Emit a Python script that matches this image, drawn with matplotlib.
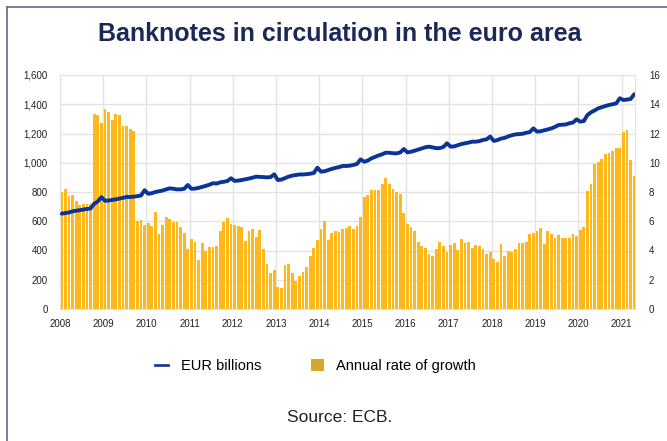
import numpy as np
import matplotlib
matplotlib.use("Agg")
import matplotlib.pyplot as plt
from matplotlib.lines import Line2D
from matplotlib.patches import Patch

# monthly data, Jan 2008 - Apr 2021
start_year = 2008
years = list(range(2008, 2022))

eur_billions = [
    652, 656, 660, 668, 672, 676, 680, 684, 688, 720, 735, 765,        # 2008
    740, 742, 746, 750, 755, 760, 766, 766, 768, 772, 776, 812,        # 2009
    788, 792, 800, 805, 810, 818, 825, 822, 818, 818, 822, 848,        # 2010
    822, 823, 828, 835, 842, 850, 860, 858, 866, 870, 875, 894,        # 2011
    876, 878, 882, 887, 892, 898, 905, 903, 902, 900, 902, 921,        # 2012
    882, 885, 895, 905, 912, 916, 920, 920, 922, 925, 930, 966,        # 2013
    939, 942, 950, 958, 965, 970, 978, 978, 980, 985, 992, 1023,       # 2014
    1007, 1015, 1030, 1040, 1050, 1058, 1069, 1068, 1065, 1064, 1070, 1094,  # 2015
    1071, 1075, 1082, 1090, 1098, 1106, 1110, 1105, 1100, 1100, 1108, 1133,  # 2016
    1110, 1112, 1120, 1128, 1133, 1138, 1144, 1144, 1148, 1156, 1160, 1179,  # 2017
    1149, 1155, 1165, 1170, 1180, 1188, 1194, 1196, 1198, 1205, 1210, 1235,  # 2018
    1213, 1215, 1222, 1228, 1235, 1245, 1258, 1260, 1262, 1270, 1275, 1297,  # 2019
    1281, 1285, 1326, 1345, 1358, 1372, 1380, 1388, 1395, 1400, 1406, 1441,  # 2020
    1429, 1432, 1436, 1468,                                                  # 2021
]

growth_rate = [
    7.98, 8.18, 7.75, 7.78, 7.37, 7.13, 7.18, 7.20, 7.20, 13.33, 13.25, 12.70,
    13.70, 13.44, 12.94, 13.31, 13.28, 12.53, 12.53, 12.30, 12.15, 6.00, 6.07, 5.73,
    5.86, 5.66, 6.66, 5.13, 5.75, 6.27, 6.16, 5.98, 5.98, 5.59, 5.20, 4.11,
    4.80, 4.57, 3.36, 4.50, 4.00, 4.23, 4.23, 4.34, 5.36, 5.98, 6.20, 5.82,
    5.75, 5.70, 5.64, 4.68, 5.36, 5.48, 4.91, 5.41, 4.07, 3.05, 2.48, 2.64,
    1.50, 1.43, 2.98, 3.09, 2.45, 1.89, 2.23, 2.52, 2.86, 3.61, 4.16, 4.73,
    5.45, 6.05, 4.73, 5.20, 5.30, 5.25, 5.50, 5.52, 5.66, 5.48, 5.70, 6.27,
    7.64, 7.82, 8.14, 8.14, 8.14, 8.55, 8.98, 8.55, 8.20, 8.02, 7.86, 6.57,
    5.82, 5.59, 5.32, 4.57, 4.30, 4.18, 3.75, 3.61, 4.11, 4.60, 4.30, 3.92,
    4.38, 4.49, 4.03, 4.78, 4.49, 4.60, 4.15, 4.38, 4.31, 4.08, 3.76, 3.92,
    3.40, 3.24, 4.45, 3.62, 3.99, 3.92, 4.08, 4.49, 4.49, 4.60, 5.10, 5.22,
    5.36, 5.51, 4.45, 5.36, 5.13, 4.83, 5.06, 4.83, 4.83, 4.88, 5.13, 4.99,
    5.40, 5.59, 8.09, 8.55, 9.92, 10.07, 10.23, 10.60, 10.64, 10.83, 10.99, 10.99,
    12.12, 12.24, 10.19, 9.09,
]

plt.rcParams['font.family'] = ['Liberation Sans', 'DejaVu Sans']

x = start_year + (np.arange(len(growth_rate)) + 0.5) / 12

fig = plt.figure(figsize=(6.67, 4.41), dpi=100)

# bars on the main axes (right scale), line on twin (left scale)
ax = fig.add_axes([60/667, 1 - 309/441, 575/667, 234/441])
ax.bar(x, growth_rate, width=0.78/12, color='#FFB81C', zorder=2)
ax.set_ylim(0, 16)
ax.set_yticks(range(0, 17, 2))
ax.set_xlim(2008, 2021.31)
ax.set_xticks(years)
ax.set_xticklabels([str(y) for y in years])
ax.grid(True, color='#e3e3e3', linewidth=1, zorder=0)
ax.set_axisbelow(True)
for s in ax.spines.values():
    s.set_color('#e3e3e3')

ax2 = ax.twinx()
ax2.plot(x, eur_billions, color='#0A3596', linewidth=2.8, solid_capstyle='round', zorder=3)
ax2.set_ylim(0, 1600)
ax2.set_yticks(range(0, 1601, 200))
ax2.set_yticklabels([f"{v:,}" for v in range(0, 1601, 200)])
for s in ax2.spines.values():
    s.set_visible(False)

# twinx moves ticks around, so set sides afterwards
ax.yaxis.tick_right()
ax2.yaxis.tick_left()
ax.tick_params(axis='both', length=0, labelsize=7, colors='#222222')
ax.tick_params(axis='x', pad=7)
ax.tick_params(axis='y', pad=10)
ax2.tick_params(axis='y', length=0, labelsize=7, colors='#222222', pad=9)

fig.text(0.51, 1 - 34/441, 'Banknotes in circulation in the euro area',
         ha='center', va='center', fontsize=18, fontweight='bold', color='#1B2858')

handles = [Line2D([0], [0], color='#1F3A8A', linewidth=2),
           Patch(facecolor='#D4A62A', edgecolor='none')]
fig.legend(handles, ['EUR billions', 'Annual rate of growth'],
           loc='center', bbox_to_anchor=(0.473, 1 - 366/441), ncol=2,
           frameon=False, fontsize=10.5, handlelength=0.9, handleheight=0.9,
           columnspacing=3.4, handletextpad=0.85)

fig.text(0.51, 1 - 418/441, 'Source: ECB.', ha='center', va='center',
         fontsize=12.5, color='#222222')

# frame lines (left and top)
fig.add_artist(Line2D([7/667, 7/667], [0, 1 - 7/441], color='#5B6A86', linewidth=1.2))
fig.add_artist(Line2D([7/667, 1], [1 - 7/441, 1 - 7/441], color='#5B6A86', linewidth=1.2))

fig.savefig('out.png', dpi=100)
